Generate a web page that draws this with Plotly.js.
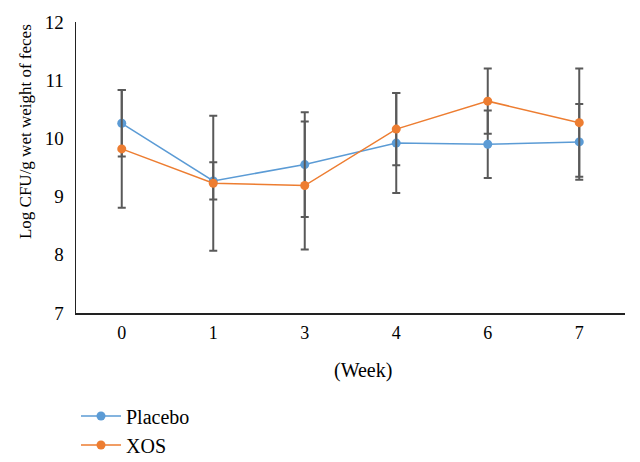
<!DOCTYPE html>
<html>
<head>
<meta charset="utf-8">
<script src="https://cdn.plot.ly/plotly-3.0.1.min.js"></script>
<style>html,body{margin:0;padding:0;background:#fff;}#chart{width:640px;height:462px;}</style>
</head>
<body>
<div id="chart"></div>
<script>
const weeks = ['0', '1', '3', '4', '6', '7'];
const placeboMean = [10.26, 9.27, 9.55, 9.92, 9.90, 9.94];
const placeboErr  = [0.57, 0.32, 0.90, 0.86, 0.58, 0.65];
const xosMean     = [9.82, 9.23, 9.19, 10.16, 10.64, 10.27];
const xosErr      = [1.01, 1.16, 1.10, 0.62, 0.56, 0.93];
const seriesNames = ['Placebo', 'XOS'];
const yTitle = 'Log CFU/g wet weight of feces';
const xTitle = '(Week)';
const sigLabel = '*, #';
const sigWeek = '6';

const FONT = "'Liberation Serif', 'Times New Roman', serif";
const errStyle = {type: 'data', visible: true, color: '#595959', thickness: 2, width: 4};

const traces = [
  {
    x: weeks, y: placeboMean, name: seriesNames[0], type: 'scatter', mode: 'lines+markers',
    line: {color: '#5B9BD5', width: 1.5}, marker: {color: '#5B9BD5', size: 9},
    error_y: Object.assign({array: placeboErr}, errStyle)
  },
  {
    x: weeks, y: xosMean, name: seriesNames[1], type: 'scatter', mode: 'lines+markers',
    line: {color: '#ED7D31', width: 1.5}, marker: {color: '#ED7D31', size: 9},
    error_y: Object.assign({array: xosErr}, errStyle)
  }
];

const layout = {
  width: 640, height: 462,
  margin: {l: 76, r: 15, t: 22, b: 149, autoexpand: false},
  paper_bgcolor: '#fff', plot_bgcolor: '#fff',
  font: {family: FONT, size: 18, color: '#000'},
  showlegend: true,
  legend: {x: 0.0, y: -0.287, xanchor: 'left', yanchor: 'top', orientation: 'v',
           itemwidth: 40, font: {family: FONT, size: 20, color: '#000'},
           bgcolor: 'rgba(0,0,0,0)'},
  xaxis: {
    type: 'category', range: [-0.5, 5.5], showgrid: false, zeroline: false,
    showline: true, linecolor: '#222', linewidth: 1.5, ticks: '',
    ticklabelstandoff: 3, tickfont: {family: FONT, size: 18, color: '#000'}
  },
  yaxis: {
    range: [7, 12], dtick: 1, showgrid: false, zeroline: false,
    showline: true, linecolor: '#222', linewidth: 1.5, ticks: '',
    ticklabelstandoff: 7, tickfont: {family: FONT, size: 19, color: '#000'}
  },
  annotations: [
    {text: yTitle, xref: 'paper', yref: 'paper', x: -0.093, y: 0.625, textangle: -90,
     showarrow: false, xanchor: 'center', yanchor: 'middle', font: {family: FONT, size: 17, color: '#000'}},
    {text: xTitle, xref: 'paper', yref: 'paper', x: 0.523, y: -0.196, showarrow: false,
     xanchor: 'center', yanchor: 'middle', font: {family: FONT, size: 20, color: '#000'}},
    {text: sigLabel, xref: 'x', yref: 'y', x: sigWeek, y: 10.92, xshift: 5, showarrow: false,
     xanchor: 'left', yanchor: 'middle', font: {family: FONT, size: 19, color: '#000'}}
  ]
};

Plotly.newPlot('chart', traces, layout, {displayModeBar: false, staticPlot: true});
</script>
</body>
</html>
